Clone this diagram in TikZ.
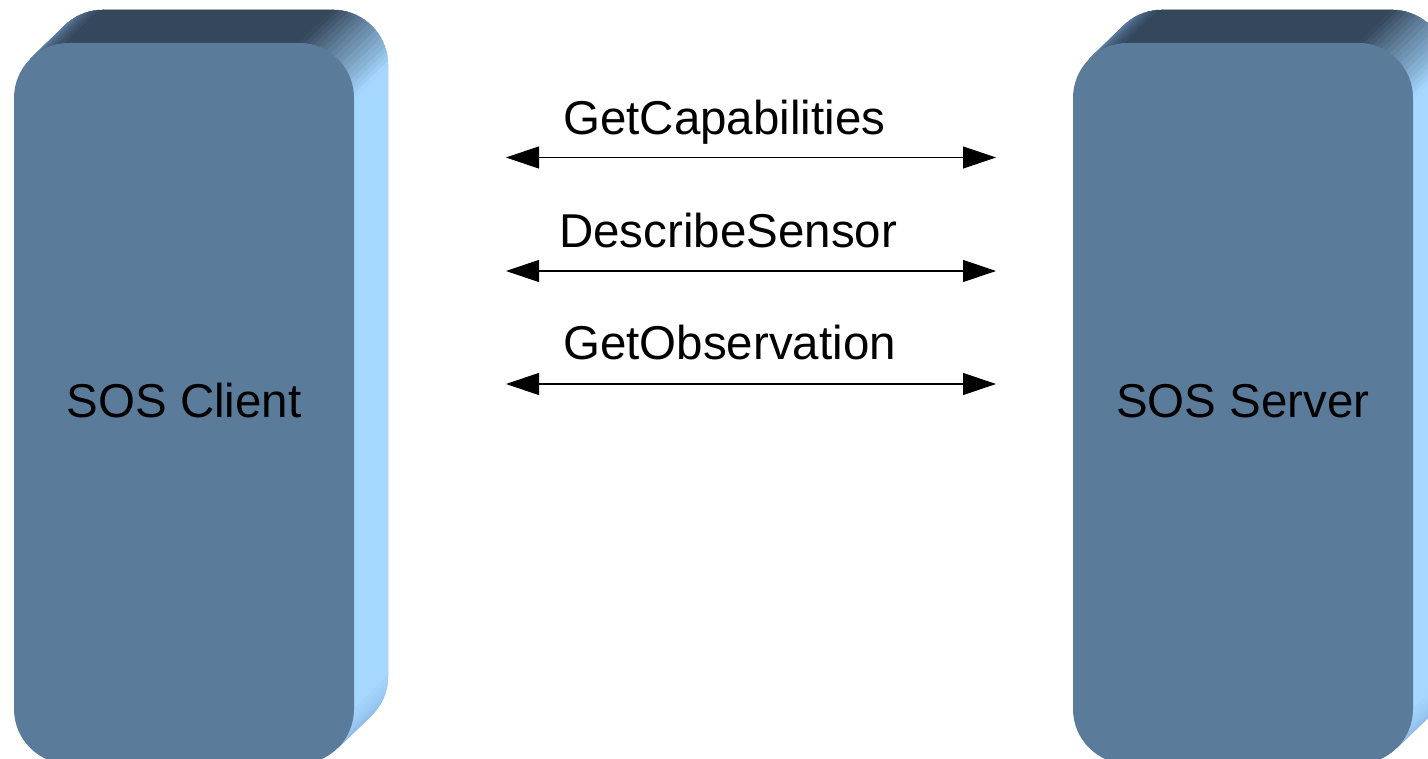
\documentclass[tikz,border=0pt]{standalone}
\usepackage{fontspec}
\setmainfont{Liberation Sans}
\usetikzlibrary{arrows.meta}

\definecolor{frontface}{HTML}{5B7B9A}
\definecolor{topface}{HTML}{34475C}
\definecolor{sideface}{HTML}{A6D7FE}
\definecolor{leftedge}{HTML}{6388B0}
\definecolor{lowedge}{HTML}{8CB8E6}

% corner radius and extrusion offset of the slabs (screen pixels, y downwards)
\def\rr{55}
\def\dx{34}
\def\dy{-33}

% extruded sides of a slab whose front face spans (#1,#2)-(#3,#4)
\newcommand\slabsides[4]{%
  \pgfmathsetmacro\xa{#1}\pgfmathsetmacro\ya{#2}%
  \pgfmathsetmacro\xb{#3}\pgfmathsetmacro\yb{#4}%
  % top face
  \fill[topface, draw=topface, line width=0.6pt]
    ({\xa+\rr},{\ya}) -- ({\xb-\rr},{\ya}) -- ++(\dx,\dy)
    -- ({\xa+\rr+\dx},{\ya+\dy}) -- cycle;
  % right face
  \fill[sideface, draw=sideface, line width=0.6pt]
    ({\xb},{\ya+\rr}) -- ({\xb},{\yb-\rr}) -- ++(\dx,\dy)
    -- ({\xb+\dx},{\ya+\rr+\dy}) -- cycle;
  % top-left rounded edge
  \foreach \a in {90,95,...,130}{
    \pgfmathtruncatemacro\p{100*(\a-90)/45}
    \fill[leftedge!\p!topface, draw=leftedge!\p!topface, line width=0.6pt]
      ({\xa+\rr+\rr*cos(\a)},{\ya+\rr-\rr*sin(\a)})
      -- ({\xa+\rr+\rr*cos(\a+5)},{\ya+\rr-\rr*sin(\a+5)}) -- ++(\dx,\dy)
      -- ({\xa+\rr+\rr*cos(\a)+\dx},{\ya+\rr-\rr*sin(\a)+\dy}) -- cycle;
  }
  % top-right rounded edge
  \foreach \a in {0,5,...,85}{
    \pgfmathtruncatemacro\p{100*(\a+2.5)/90}
    \fill[topface!\p!sideface, draw=topface!\p!sideface, line width=0.6pt]
      ({\xb-\rr+\rr*cos(\a)},{\ya+\rr-\rr*sin(\a)})
      -- ({\xb-\rr+\rr*cos(\a+5)},{\ya+\rr-\rr*sin(\a+5)}) -- ++(\dx,\dy)
      -- ({\xb-\rr+\rr*cos(\a)+\dx},{\ya+\rr-\rr*sin(\a)+\dy}) -- cycle;
  }
  % bottom-right rounded edge
  \foreach \a in {-45,-40,...,-5}{
    \pgfmathtruncatemacro\p{100*(\a+45)/45}
    \fill[sideface!\p!lowedge, draw=sideface!\p!lowedge, line width=0.6pt]
      ({\xb-\rr+\rr*cos(\a)},{\yb-\rr-\rr*sin(\a)})
      -- ({\xb-\rr+\rr*cos(\a+5)},{\yb-\rr-\rr*sin(\a+5)}) -- ++(\dx,\dy)
      -- ({\xb-\rr+\rr*cos(\a)+\dx},{\yb-\rr-\rr*sin(\a)+\dy}) -- cycle;
  }
}

\tikzset{
  slab/.style={fill=frontface, inner sep=0pt, minimum width=340pt,
    minimum height=721pt, rounded corners=55pt, text=black},
  slabtext/.style={font=\fontsize{47.5}{57}\selectfont, text=black},
  msg/.style={anchor=base west, inner sep=0pt,
    font=\fontsize{47.5}{57}\selectfont, text=black},
  link/.style={line width=1.2pt,
    {Triangle[length=33pt,width=22pt]}-{Triangle[length=33pt,width=22pt]}},
}

\begin{document}
\begin{tikzpicture}[x=1pt, y=-1pt]
  \useasboundingbox (0,0) rectangle (1428,759);
  \clip (0,0) rectangle (1428,759);

  % client slab
  \slabsides{14}{43}{354}{764}
  \node[slab] (client) at (184,403.5) {};
  \node[slabtext] (clientT) at (184,401) {SOS Client};

  % server slab
  \slabsides{1073}{43}{1413}{764}
  \node[slab] (server) at (1243,403.5) {};
  \node[slabtext] (serverT) at (1243,401) {SOS Server};

  % request / response pairs
  \coordinate (capL) at (506,157.5);
  \coordinate (capR) at (996,157.5);
  \coordinate (descL) at (506,271);
  \coordinate (descR) at (996,271);
  \coordinate (obsL) at (506,384);
  \coordinate (obsR) at (996,384);

  \draw[link] (capL) -- (capR);
  \draw[link] (descL) -- (descR);
  \draw[link] (obsL) -- (obsR);

  \node[msg] (capT) at (563,135) {GetCapabilities};
  \node[msg] (descT) at (559,248) {DescribeSensor};
  \node[msg] (obsT) at (563,360) {GetObservation};
\end{tikzpicture}
\end{document}
